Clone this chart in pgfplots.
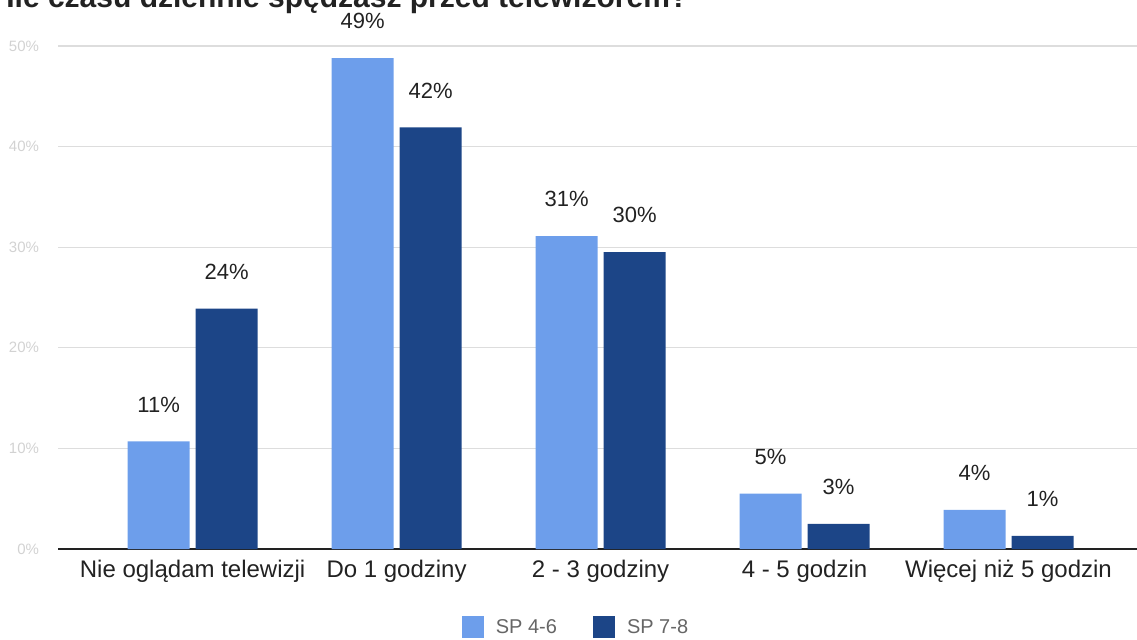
\documentclass[border=0pt]{standalone}
\usepackage{pgfplots}
\pgfplotsset{compat=1.18}
\usepackage{pgfplotstable}
\usepackage{fontspec}
\setmainfont{Liberation Sans}

\definecolor{lightbar}{HTML}{6D9EEB}
\definecolor{darkbar}{HTML}{1C4587}
\definecolor{gridc}{HTML}{DDDDDD}
\definecolor{txt}{HTML}{222222}

% czas przed telewizorem, wartosci w % (wysokosc, etykieta)
\pgfplotstableread{
x  a     alab  b     blab
0  10.7  11    23.9  24
1  48.8  49    41.9  42
2  31.1  31    29.5  30
3  5.5   5     2.5   3
4  3.9   4     1.3   1
}\czas

\begin{document}
\begin{tikzpicture}
    \node[anchor=base west, font=\fontsize{15}{18}\selectfont\bfseries, text=txt, inner sep=0pt]
        at (3pt,315.5pt) {Ile czasu dziennie spędzasz przed telewizorem?};
    \begin{axis}[
            at={(29pt,45pt)}, anchor=south west,
            scale only axis,
            width=539.5pt, height=251.5pt,
            ybar=3pt, bar width=31pt,
            xmin=-0.66, xmax=4.63,
            ymin=0, ymax=50,
            xtick={0,...,4},
            xticklabels={Nie oglądam telewizji, Do 1 godziny, 2 - 3 godziny, 4 - 5 godzin, Więcej niż 5 godzin},
            x tick label style={font=\fontsize{12}{14}\selectfont, text=txt, yshift=-2pt},
            ytick={0,10,...,50},
            yticklabel={\pgfmathprintnumber{\tick}\%},
            y tick label style={font=\fontsize{7.5}{9}\selectfont, text=gray!35, xshift=-6pt},
            /pgf/number format/assume math mode=true,
            major tick length=0pt,
            ymajorgrids,
            grid style={gridc, line width=0.6pt},
            axis x line*=bottom, axis y line*=left,
            x axis line style={txt, line width=1.2pt, -},
            y axis line style={draw=none},
            clip=false,
            nodes near coords={\pgfplotspointmeta\%},
            point meta=explicit symbolic,
            every node near coord/.append style={font=\fontsize{11}{13}\selectfont, text=txt, yshift=11pt},
            legend style={at={(0.481,-0.157)}, anchor=center, draw=none, fill=none,
                legend columns=2, font=\fontsize{10}{12}\selectfont, text=gray!80!black,
                /tikz/every odd column/.append style={column sep=4pt},
                /tikz/every even column/.append style={column sep=16pt}},
            legend image code/.code={\fill[#1] (0pt,-5pt) rectangle (11pt,6pt);},
        ]
        \addplot[fill=lightbar, draw=none] table[x=x, y=a, meta=alab] {\czas};
        \addplot[fill=darkbar, draw=none] table[x=x, y=b, meta=blab] {\czas};
        \legend{SP 4-6, SP 7-8}
    \end{axis}
    \pgfresetboundingbox
    \useasboundingbox (0,0) rectangle (568.5pt,319.5pt);
\end{tikzpicture}
\end{document}
